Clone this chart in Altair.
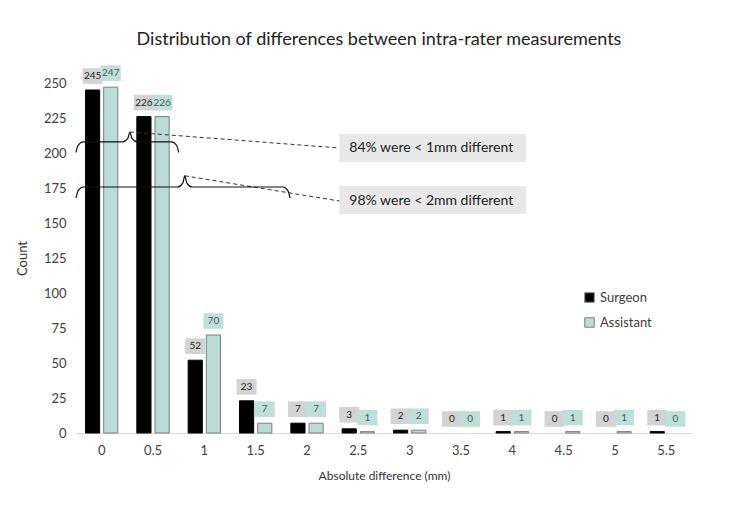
import altair as alt
import pandas as pd

# ---- data -------------------------------------------------------------
cats = ["0", "0.5", "1", "1.5", "2", "2.5", "3", "3.5", "4", "4.5", "5", "5.5"]
surgeon = [245, 226, 52, 23, 7, 3, 2, 0, 1, 0, 0, 1]
assistant = [247, 226, 70, 7, 7, 1, 2, 0, 1, 1, 1, 0]
series = ["Surgeon", "Assistant"]
y_ticks = [0, 25, 50, 75, 100, 125, 150, 175, 200, 225, 250]

# annotation geometry in "band units" (0..12 across x) and count units (y)
brace_ids = ["b1", "b2"]
brace_start = [0.0, 0.0]
brace_tip = [1.05, 2.12]
brace_end = [2.0, 4.17]
brace_line = [208.0, 175.7]
brace_drop = [7.5, 8.0]
brace_rise = [7.0, 8.0]

callout_text = ["84% were < 1mm different", "98% were < 2mm different"]
callout_x = [5.13, 5.13]
callout_x2 = [8.77, 8.77]
callout_y = [213.6, 176.4]
callout_y2 = [193.6, 156.4]
callout_line_y = [203.6, 165.7]

# ---- tables -----------------------------------------------------------
rows = []
for i, c in enumerate(cats):
    rows.append({"cat": c, "series": "Surgeon", "count": surgeon[i]})
    rows.append({"cat": c, "series": "Assistant", "count": assistant[i]})
df = pd.DataFrame(rows)

brace_rows = []
for k, bid in enumerate(brace_ids):
    s, t, e = brace_start[k], brace_tip[k], brace_end[k]
    L, d, r = brace_line[k], brace_drop[k], brace_rise[k]
    pts = [
        (s, L - d), (s + 0.04, L - d * 0.35), (s + 0.14, L),
        (t - 0.14, L), (t - 0.04, L + r * 0.35), (t, L + r),
        (t + 0.04, L + r * 0.35), (t + 0.14, L),
        (e - 0.14, L), (e - 0.04, L - d * 0.35), (e, L - d),
    ]
    for j, (px, py) in enumerate(pts):
        brace_rows.append({"id": bid, "o": j, "bx": px, "by": py})
braces = pd.DataFrame(brace_rows)

calls = pd.DataFrame({
    "label": callout_text,
    "x": callout_x, "x2": callout_x2,
    "y": callout_y, "y2": callout_y2,
    "ly": callout_line_y,
    "tx": brace_tip,
    "ty": [brace_line[k] + brace_rise[k] for k in range(2)],
})

FONT = "Lato"

yscale = alt.Scale(domain=[0, 250], nice=False)
xband = alt.Scale(domain=cats, paddingInner=0.37, paddingOuter=0.185)
offscale = alt.Scale(domain=series, paddingInner=0.22, paddingOuter=0)

x_axis = alt.Axis(title="Absolute difference (mm)", labelAngle=0,
                  ticks=False, domainColor="#D9D9D9", labelFontSize=13,
                  labelColor="#404040", labelPadding=11, titleFontSize=12,
                  titleFontWeight="normal", titleColor="#333333",
                  titlePadding=13)
y_axis = alt.Axis(title="Count", values=y_ticks, tickCount=11,
                  labelOverlap=False,
                  ticks=False, domain=False, grid=False, labelFontSize=13,
                  labelColor="#404040", labelPadding=10, titleFontSize=13,
                  titleFontWeight="normal", titleColor="#333333",
                  titlePadding=14)

x_enc = alt.X("cat:N", sort=cats, scale=xband, axis=x_axis, title="Absolute difference (mm)")
xoff = alt.XOffset("series:N", sort=series, scale=offscale)


def yq(field):
    return alt.Y(field, scale=yscale, axis=y_axis, title="Count")


bars = alt.Chart(df).transform_filter("datum.count > 0").mark_bar(strokeWidth=1).encode(
    x=x_enc,
    xOffset=xoff,
    y=yq("count:Q"),
    color=alt.Color("series:N", sort=series,
                    scale=alt.Scale(domain=series, range=["#000000", "#BBDCD5"]),
                    legend=alt.Legend(title=None)),
    stroke=alt.Stroke("series:N", sort=series,
                      scale=alt.Scale(domain=series, range=["#000000", "#7F7F7F"]),
                      legend=None),
)

boxes = alt.Chart(df).mark_point(
    shape="M-1,-0.78H1V0.78H-1Z", filled=True, opacity=1, size=400, yOffset=-14,
).encode(
    x=x_enc,
    xOffset=xoff,
    y=yq("count:Q"),
    fill=alt.Fill("series:N", sort=series,
                  scale=alt.Scale(domain=series, range=["#D3D3D3", "#BFE0D8"]),
                  legend=None),
)

texts = alt.Chart(df).mark_text(
    fontSize=10, font=FONT, yOffset=-14, baseline="middle",
).encode(
    x=x_enc,
    xOffset=xoff,
    y=yq("count:Q"),
    text=alt.Text("count:Q"),
    color=alt.Color("series:N", sort=series,
                    scale=alt.Scale(domain=series, range=["#222222", "#4A5A57"]),
                    legend=None),
)

main = alt.layer(bars, boxes, texts).resolve_scale(color="independent", fill="independent")

ax = alt.Scale(domain=[0, 12], nice=False, zero=False)

brace_lines = alt.Chart(braces).mark_line(
    color="#111111", strokeWidth=1.2, interpolate="monotone"
).encode(
    x=alt.X("bx:Q", scale=ax, axis=None),
    y=yq("by:Q"),
    detail="id:N",
    order="o:Q",
)

dashes = alt.Chart(calls).mark_rule(
    color="#333333", strokeWidth=1, strokeDash=[4, 3]
).encode(
    x=alt.X("tx:Q", scale=ax, axis=None),
    y=yq("ty:Q"),
    x2="x:Q",
    y2="ly:Q",
)

call_rects = alt.Chart(calls).mark_rect(color="#E8E8E8").encode(
    x=alt.X("x:Q", scale=ax, axis=None),
    x2="x2:Q",
    y=yq("y:Q"),
    y2="y2:Q",
)

call_texts = alt.Chart(calls).mark_text(
    align="left", baseline="middle", fontSize=14, font=FONT, color="#222222", dx=10
).encode(
    x=alt.X("x:Q", scale=ax, axis=None),
    y=yq("ly:Q"),
    text="label:N",
)

annot = alt.layer(call_rects, dashes, brace_lines, call_texts)

chart = alt.layer(main, annot).resolve_scale(x="independent").properties(
    width=616, height=350,
    autosize=alt.AutoSizeParams(type="none"),
    padding={"left": 68, "top": 75, "right": 35, "bottom": 70},
    title=alt.TitleParams(
        "Distribution of differences between intra-rater measurements",
        fontSize=18, font=FONT, fontWeight="normal", color="#222222",
        anchor="middle", frame="group", offset=16, dx=-5,
    ),
).configure(font=FONT).configure_view(stroke=None).configure_legend(
    orient="none", legendX=507, legendY=208, symbolType="square", symbolSize=90,
    labelFontSize=13, labelColor="#404040", rowPadding=10, symbolStrokeWidth=1,
    symbolStrokeColor="#7F7F7F",
    labelFont=FONT, labelFontWeight="normal",
).configure_axis(labelFont=FONT, titleFont=FONT)

chart.save("out.html", embed_options={"renderer": "svg", "actions": False})
